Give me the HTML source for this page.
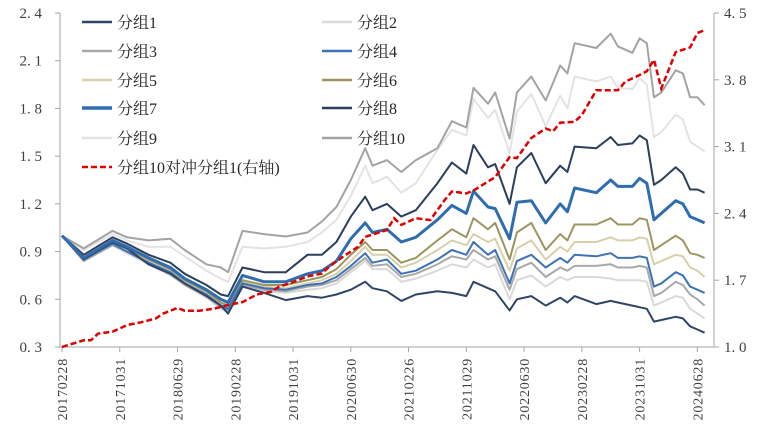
<!DOCTYPE html>
<html><head><meta charset="utf-8">
<style>
html,body{margin:0;padding:0;background:#fff;}
svg{display:block;font-family:"Liberation Serif","Noto Serif CJK SC",serif;}
</style></head>
<body>
<svg id="chart" width="768" height="441" viewBox="0 0 768 441" xmlns="http://www.w3.org/2000/svg">
<g id="axes"></g><g id="series"></g><g id="legend"></g>
</svg>
<script>
const xTickLabels = ["20170228","20171031","20180629","20190228","20191031","20200630","20210226","20211029","20220630","20230228","20231031","20240628"];
const xTickMonths = [0,8,16,24,32,40,48,56,64,72,80,88];
const leftTicks = [0.3,0.6,0.9,1.2,1.5,1.8,2.1,2.4];
const rightTicks = [1.0,1.7,2.4,3.1,3.8,4.5];
const groupNames = ["分组1","分组2","分组3","分组4","分组5","分组6","分组7","分组8","分组9","分组10"];
const hedgeName = "分组10对冲分组1(右轴)";
const knots = [0,3,7,9,12,15,17,20,22,23,25,28,31,34,36,38,40,42,43,45,47,49,52,54,56,57,59,60,62,63,65,67,69,70,71,74,76,77,79,80,81,82,83,85,86,87,88,89];
const g1 = [1.0,0.85,0.96,0.92,0.82,0.76,0.70,0.62,0.56,0.51,0.68,0.64,0.595,0.62,0.61,0.63,0.66,0.71,0.67,0.65,0.59,0.63,0.65,0.64,0.62,0.71,0.67,0.65,0.53,0.60,0.62,0.56,0.61,0.58,0.62,0.57,0.59,0.58,0.56,0.55,0.54,0.46,0.47,0.49,0.48,0.43,0.41,0.39];
const g2 = [1.0,0.84,0.94,0.89,0.82,0.75,0.69,0.61,0.54,0.52,0.68,0.65,0.64,0.66,0.67,0.70,0.77,0.84,0.79,0.79,0.71,0.73,0.78,0.82,0.80,0.85,0.80,0.82,0.60,0.72,0.75,0.68,0.74,0.72,0.74,0.74,0.73,0.72,0.72,0.72,0.71,0.56,0.58,0.62,0.61,0.54,0.51,0.48];
const g3 = [1.0,0.84,0.94,0.90,0.83,0.76,0.69,0.62,0.55,0.53,0.69,0.66,0.65,0.68,0.69,0.72,0.79,0.86,0.81,0.82,0.74,0.76,0.82,0.87,0.85,0.91,0.85,0.87,0.66,0.79,0.83,0.74,0.80,0.78,0.81,0.81,0.82,0.80,0.80,0.81,0.80,0.62,0.64,0.71,0.69,0.63,0.60,0.56];
const g4 = [1.0,0.85,0.95,0.90,0.83,0.77,0.70,0.63,0.56,0.54,0.70,0.67,0.66,0.69,0.70,0.74,0.81,0.89,0.83,0.85,0.76,0.78,0.85,0.91,0.88,0.96,0.88,0.91,0.70,0.84,0.88,0.80,0.86,0.83,0.88,0.87,0.89,0.86,0.86,0.87,0.86,0.68,0.70,0.77,0.75,0.68,0.66,0.64];
const g5 = [1.0,0.85,0.95,0.91,0.84,0.78,0.71,0.64,0.57,0.55,0.71,0.68,0.67,0.70,0.72,0.76,0.84,0.93,0.88,0.88,0.80,0.83,0.91,0.97,0.94,1.01,0.96,0.98,0.78,0.92,0.97,0.85,0.93,0.90,0.96,0.96,0.99,0.97,0.97,0.99,0.98,0.82,0.84,0.88,0.87,0.80,0.78,0.74];
const g6 = [1.0,0.86,0.96,0.92,0.85,0.79,0.72,0.65,0.58,0.56,0.72,0.69,0.69,0.72,0.74,0.79,0.88,0.96,0.91,0.91,0.83,0.86,0.97,1.04,0.99,1.11,1.04,1.08,0.85,1.02,1.08,0.91,1.01,0.97,1.07,1.07,1.11,1.07,1.07,1.11,1.10,0.91,0.94,1.00,0.97,0.89,0.88,0.86];
const g7 = [1.0,0.86,0.97,0.93,0.86,0.80,0.73,0.66,0.60,0.58,0.75,0.71,0.71,0.76,0.78,0.84,0.98,1.08,1.02,1.04,0.96,0.99,1.10,1.19,1.14,1.28,1.18,1.17,0.98,1.21,1.22,1.08,1.20,1.15,1.30,1.27,1.35,1.31,1.31,1.36,1.33,1.10,1.14,1.22,1.20,1.12,1.10,1.08];
const g8 = [1.0,0.88,0.99,0.95,0.88,0.83,0.76,0.69,0.63,0.62,0.80,0.77,0.77,0.88,0.88,0.96,1.12,1.245,1.16,1.20,1.12,1.16,1.33,1.46,1.39,1.57,1.43,1.45,1.20,1.43,1.52,1.33,1.44,1.40,1.56,1.55,1.62,1.57,1.58,1.63,1.60,1.32,1.35,1.43,1.39,1.29,1.29,1.27];
const g9 = [1.0,0.91,1.01,0.97,0.93,0.93,0.87,0.78,0.73,0.71,0.93,0.92,0.93,0.96,1.02,1.10,1.25,1.44,1.33,1.37,1.27,1.33,1.54,1.665,1.63,1.86,1.74,1.79,1.52,1.78,1.89,1.69,1.88,1.80,2.00,1.97,2.00,1.93,1.92,1.99,1.95,1.62,1.65,1.76,1.73,1.59,1.56,1.53];
const g10 = [1.0,0.92,1.03,0.99,0.97,0.98,0.91,0.82,0.80,0.77,1.03,1.01,0.995,1.02,1.09,1.18,1.35,1.55,1.44,1.475,1.40,1.475,1.55,1.72,1.68,1.93,1.83,1.90,1.61,1.90,2.00,1.85,2.07,2.02,2.21,2.18,2.27,2.19,2.15,2.24,2.21,1.87,1.90,2.04,2.02,1.87,1.87,1.82];
const hedgeKnots = [0,3,4,5,7,9,11,13,14,16,17,19,21,23,25,27,29,30,32,34,36,37,39,41,42,45,46,47,49,51,53,54,56,57,60,62,63,65,67,68,69,71,72,74,75,77,78,80,81,82,83,85,87,88,89];
const hedgeVals = [1.0,1.07,1.07,1.14,1.16,1.23,1.26,1.30,1.35,1.41,1.38,1.38,1.40,1.44,1.47,1.55,1.58,1.63,1.68,1.74,1.77,1.84,1.95,2.05,2.155,2.225,2.35,2.28,2.35,2.33,2.54,2.63,2.61,2.64,2.78,2.99,2.98,3.19,3.29,3.26,3.35,3.36,3.43,3.69,3.69,3.69,3.78,3.85,3.89,4.01,3.71,4.09,4.14,4.29,4.32];
</script>
<script>
const NS="http://www.w3.org/2000/svg";
const X0=62, DX=7.22, YT=13, YB=347;
function xs(m){return X0+m*DX;}
function yl(v){return YB-(v-0.3)/(2.4-0.3)*(YB-YT);}
function yr(v){return YB-(v-1.0)/(4.5-1.0)*(YB-YT);}
function mk(tag,attrs,parent){const e=document.createElementNS(NS,tag);for(const k in attrs)e.setAttribute(k,attrs[k]);parent.appendChild(e);return e;}
const axes=document.getElementById('axes');
const lx=60, rx=714;
let e;
e=mk('line',{x1:lx,y1:YT,x2:lx,y2:YB,stroke:'#a6a6a6','stroke-width':1},axes);


e=mk('line',{x1:rx,y1:YT,x2:rx,y2:YB,stroke:'#a6a6a6','stroke-width':1},axes);


e=mk('line',{x1:lx,y1:YB,x2:rx,y2:YB,stroke:'#a6a6a6','stroke-width':1},axes);


leftTicks.forEach(v=>{
  const y=yl(v);
  mk('line',{x1:lx-5,y1:y,x2:lx,y2:y,stroke:'#a6a6a6'},axes);
  const t=mk('text',{x:42,y:y+5,'text-anchor':'end','font-size':15,fill:'#404040'},axes);
  t.textContent=v.toFixed(1).replace('.','. ');
  
  
});
rightTicks.forEach(v=>{
  const y=yr(v);
  mk('line',{x1:rx,y1:y,x2:rx+5,y2:y,stroke:'#a6a6a6'},axes);
  const t=mk('text',{x:724,y:y+5,'text-anchor':'start','font-size':15,fill:'#404040'},axes);
  t.textContent=v.toFixed(1).replace('.','. ');
  
  
});
xTickMonths.forEach((m,i)=>{
  const x=xs(m);
  mk('line',{x1:x,y1:YB,x2:x,y2:YB+5,stroke:'#a6a6a6'},axes);
  const t=mk('text',{x:0,y:0,'text-anchor':'end','font-size':14,'letter-spacing':'0.8',fill:'#404040',transform:`translate(${x+5},${358}) rotate(-90)`},axes);
  t.textContent=xTickLabels[i];
  
  
});
const colors=['#2f4567','#d9d9d9','#a9a9a9','#3d72b4','#d8d0aa','#9c9560','#2f6db0','#2b3e5c','#e3e3e3','#a3a3a3'];
const widths=[2,2,2,2,2,2,3,2,2,2];
const groups=[g1,g2,g3,g4,g5,g6,g7,g8,g9,g10];
const ser=document.getElementById('series');
const drawOrder=[1,8,9,2,4,5,3,0,7,6];
drawOrder.forEach(gi=>{
  const vals=groups[gi];
  const pts=knots.map((m,i)=>xs(m).toFixed(1)+','+yl(vals[i]).toFixed(1)).join(' ');
  const p=mk('polyline',{points:pts,fill:'none',stroke:colors[gi],'stroke-width':widths[gi],'stroke-linejoin':'round'},ser);
  
  
});
const hp=hedgeKnots.map((m,i)=>xs(m).toFixed(1)+','+yr(hedgeVals[i]).toFixed(1)).join(' ');
const hl=mk('polyline',{points:hp,fill:'none',stroke:'#e00000','stroke-width':2.5,'stroke-dasharray':'6,3'},ser);


const leg=document.getElementById('legend');
const rowsY=[22,51,80,108,138,167];
groupNames.forEach((n,i)=>{
  const col=i%2,row=Math.floor(i/2);
  const x0=col?322:82, y=rowsY[row];
  const g=mk('g',{},leg);
  
  
  mk('line',{x1:x0,y1:y,x2:x0+30,y2:y,stroke:colors[i],'stroke-width':widths[i]+0.5},g);
  const t=mk('text',{x:x0+35,y:y+6,'font-size':16,fill:'#262626'},g);
  t.textContent=n;
});
const hg=mk('g',{},leg);


mk('line',{x1:82,y1:rowsY[5],x2:112,y2:rowsY[5],stroke:'#e00000','stroke-width':2.5,'stroke-dasharray':'6,3'},hg);
const ht=mk('text',{x:117,y:rowsY[5]+6,'font-size':16,fill:'#262626'},hg);
ht.textContent=hedgeName;
</script>
</body></html>
